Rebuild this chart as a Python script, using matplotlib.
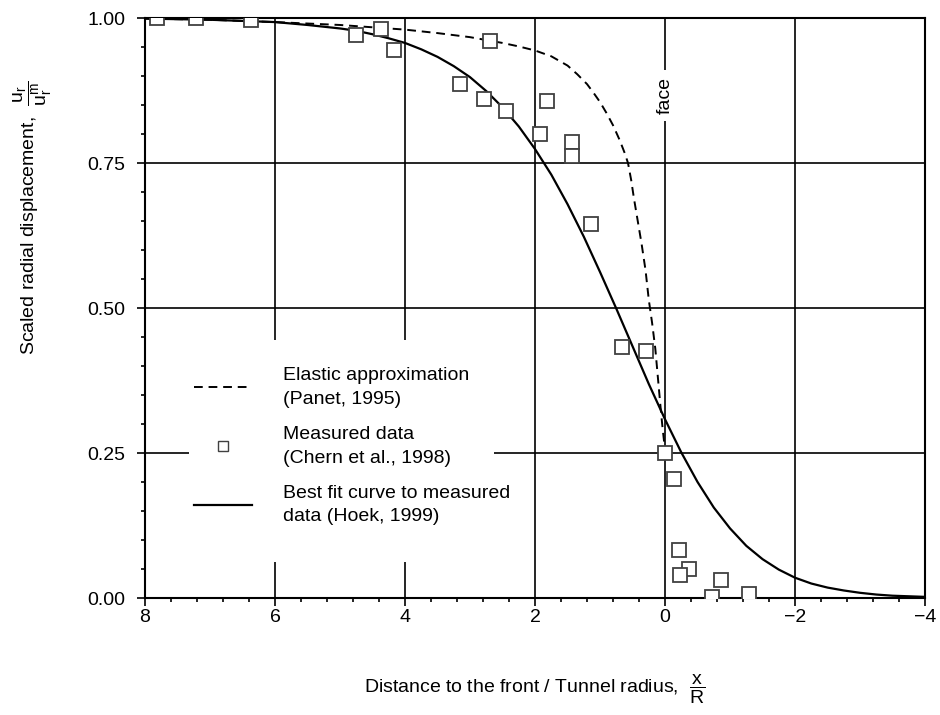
import numpy as np
import matplotlib
matplotlib.use("Agg")
import matplotlib.pyplot as plt
from matplotlib.lines import Line2D
from matplotlib.patches import Rectangle
from matplotlib.ticker import MultipleLocator, FormatStrFormatter

plt.rcParams['font.family'] = ['Liberation Sans', 'DejaVu Sans']
plt.rcParams['mathtext.fontset'] = 'custom'
plt.rcParams['mathtext.rm'] = 'Liberation Sans'
plt.rcParams['mathtext.it'] = 'Liberation Sans:italic'

# measured data (Chern et al., 1998)
meas_x = [7.82, 7.22, 6.37, 4.75, 4.37, 4.17, 3.15, 2.78, 2.45, 2.69, 1.92, 1.82,
          1.43, 1.43, 1.14, 0.66, 0.29, 0.0, -0.14, -0.22, -0.37, -0.23, -0.86,
          -0.72, -1.29]
meas_y = [1.0, 1.0, 0.997, 0.971, 0.981, 0.945, 0.886, 0.86, 0.84, 0.96, 0.80, 0.857,
          0.786, 0.762, 0.645, 0.433, 0.426, 0.25, 0.205, 0.083, 0.05, 0.04, 0.031,
          0.002, 0.007]

# best fit curve (Hoek, 1999)
fit_x = [8, 7.5, 7, 6.5, 6, 5.5, 5, 4.75, 4.5, 4.25, 4, 3.75, 3.5, 3.25, 3, 2.75,
         2.5, 2.25, 2, 1.75, 1.5, 1.25, 1, 0.75, 0.5, 0.25, 0, -0.25, -0.5, -0.75,
         -1, -1.25, -1.5, -1.75, -2, -2.25, -2.5, -2.75, -3, -3.25, -3.5, -3.75, -4]
fit_y = [0.999, 0.998, 0.997, 0.995, 0.993, 0.988, 0.982, 0.978, 0.972, 0.965,
         0.957, 0.946, 0.933, 0.917, 0.898, 0.874, 0.846, 0.813, 0.774, 0.730,
         0.679, 0.623, 0.562, 0.499, 0.434, 0.369, 0.308, 0.251, 0.200, 0.156,
         0.120, 0.090, 0.067, 0.049, 0.035, 0.025, 0.018, 0.013, 0.009, 0.006,
         0.004, 0.003, 0.002]

# elastic approximation (Panet, 1995)
el_x = [8, 7, 6, 5, 4, 3.5, 3, 2.5, 2.25, 2, 1.75, 1.5, 1.35, 1.2, 1.1, 1.0, 0.9,
        0.8, 0.7, 0.62, 0.57, 0.52, 0.48, 0.42, 0.36, 0.3, 0.25, 0.2, 0.15, 0.11,
        0.07, 0.04, 0.015, 0.0]
el_y = [0.999, 0.997, 0.993, 0.988, 0.98, 0.974, 0.967, 0.957, 0.951, 0.944, 0.934,
        0.918, 0.903, 0.886, 0.871, 0.855, 0.836, 0.815, 0.79, 0.767, 0.75, 0.72,
        0.69, 0.65, 0.61, 0.565, 0.514, 0.475, 0.43, 0.38, 0.33, 0.295, 0.27, 0.25]

legend_labels = ['Elastic approximation\n(Panet, 1995)',
                 'Measured data\n(Chern et al., 1998)',
                 'Best fit curve to measured\ndata (Hoek, 1999)']

fig = plt.figure(figsize=(9.4, 7.15), dpi=100)
ax = fig.add_axes([0.1543, 0.1636, 0.8298, 0.8112])

ax.plot(el_x, el_y, color='black', lw=1.4, dashes=(4.5, 3), zorder=3)
ax.plot(fit_x, fit_y, color='black', lw=1.6, zorder=3)
ax.plot(meas_x, meas_y, ls='none', marker='s', ms=10.5, mfc='white', mec='#404040',
        mew=1.3, zorder=4)

ax.set_xlim(8, -4)
ax.set_ylim(0, 1)
ax.xaxis.set_major_locator(MultipleLocator(2))
ax.xaxis.set_minor_locator(MultipleLocator(0.4))
ax.yaxis.set_major_locator(MultipleLocator(0.25))
ax.yaxis.set_minor_locator(MultipleLocator(0.05))
ax.yaxis.set_major_formatter(FormatStrFormatter('%.2f'))
ax.tick_params(which='major', direction='out', length=6, width=1.2, labelsize=14)
ax.tick_params(axis='x', which='major', pad=2)
ax.tick_params(axis='y', which='major', pad=8)
ax.tick_params(which='minor', direction='out', length=3, width=1.2)
ax.grid(True, which='major', color='black', lw=1.2)
for s in ax.spines.values():
    s.set_linewidth(1.5)

# white box behind the legend hides the grid lines
ax.add_patch(Rectangle((0.056, 0.062), 0.391, 0.383, transform=ax.transAxes,
                       facecolor='white', edgecolor='none', zorder=2))

ax.text(0, 0.866, 'face', rotation=90, ha='center', va='center', fontsize=14,
        bbox=dict(boxstyle='square,pad=0.35', fc='white', ec='none'), zorder=5)

handles = [Line2D([], [], color='black', lw=1.4, dashes=(4.5, 3)),
           Line2D([], [], ls='none', marker='s', ms=7, mfc='white', mec='#404040', mew=1.0),
           Line2D([], [], color='black', lw=1.6)]
leg = ax.legend(handles, legend_labels, loc='upper left', bbox_to_anchor=(0.05, 0.415),
                frameon=False, fontsize=14, handlelength=3.0, handletextpad=1.6,
                labelspacing=0.95, borderpad=0)
for t in leg.get_texts():
    t.set_linespacing(1.5)
leg.set_zorder(6)

ax.set_xlabel(r'Distance to the front / Tunnel radius,  $\dfrac{\mathrm{x}}{\mathrm{R}}$',
              fontsize=14, labelpad=34)
ax.set_ylabel(r'Scaled radial displacement,  $\dfrac{\mathrm{u_r}}{\mathrm{u_r^m}}$',
              fontsize=14)
ax.yaxis.set_label_coords(-0.117, 0.655)

fig.savefig('out.png', dpi=100)
